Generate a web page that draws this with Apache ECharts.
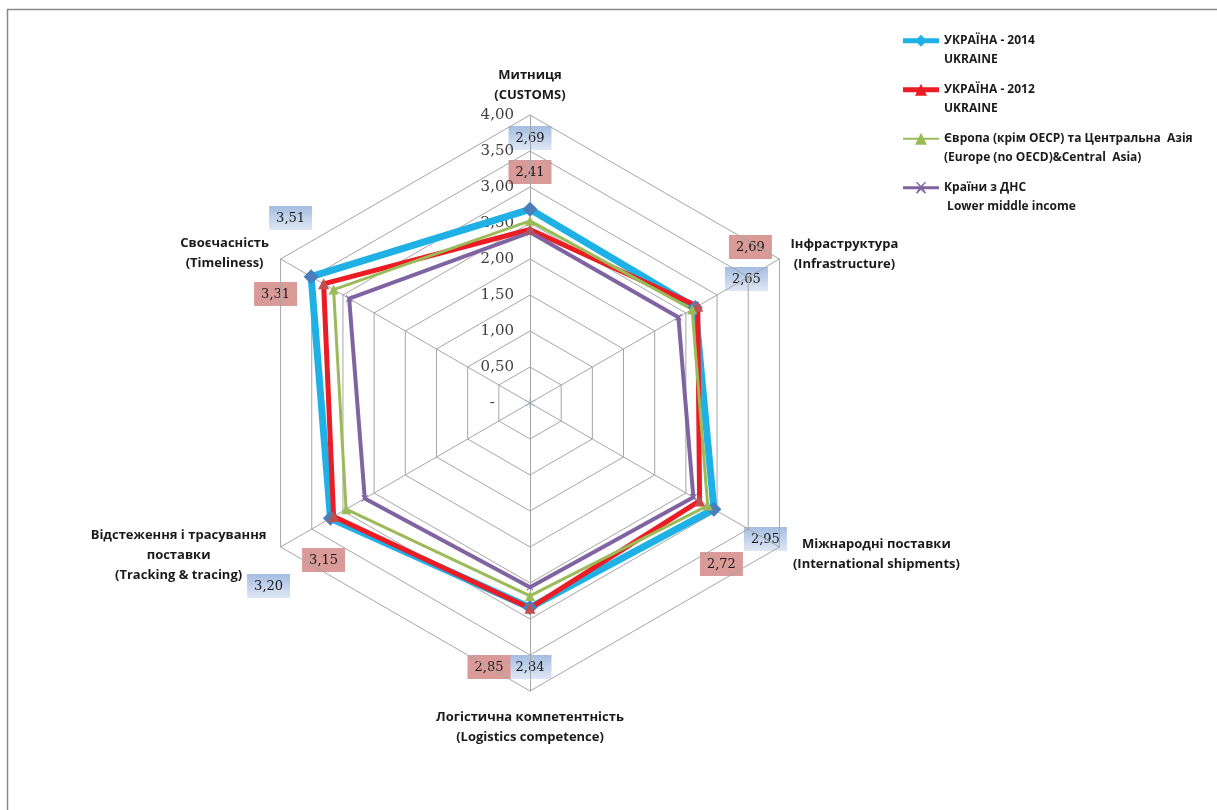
<!DOCTYPE html>
<html>
<head>
<meta charset="utf-8">
<script src="https://cdn.jsdelivr.net/npm/echarts@6/dist/echarts.min.js"></script>
<style>
  html, body { margin: 0; padding: 0; background: #ffffff; }
  #chart { width: 1217px; height: 810px; }
</style>
</head>
<body>
<div id="chart"></div>
<script>
// LPI components, listed clockwise starting from the top axis
const categories = [
  'Митниця\n(CUSTOMS)',
  'Інфраструктура\n(Infrastructure)',
  'Міжнародні поставки\n(International shipments)',
  'Логістична компетентність\n(Logistics competence)',
  'Відстеження і трасування\nпоставки\n(Tracking & tracing)',
  'Своєчасність\n(Timeliness)'
];

const seriesNames = [
  'УКРАЇНА - 2014\nUKRAINE',
  'УКРАЇНА - 2012\nUKRAINE',
  'Європа (крім ОЕСР) та Центральна  Азія\n(Europe (no OECD)&Central  Asia)',
  'Країни з ДНС\n Lower middle income'
];

const ukraine2014 = [2.69, 2.65, 2.95, 2.84, 3.20, 3.51];
const ukraine2012 = [2.41, 2.69, 2.72, 2.85, 3.15, 3.31];
const europeCentralAsia = [2.53, 2.60, 2.85, 2.68, 2.95, 3.15];
const lowerMiddleIncome = [2.37, 2.38, 2.62, 2.56, 2.65, 2.90];

const scaleMin = 0;
const scaleMax = 4;
const scaleStep = 0.5;

// radar geometry (pixels)
const CX = 530, CY = 403, R = 288;

// where the value boxes sit, relative to each axis's outer vertex
const boxOffsets2014 = [[0, 23], [-33, 20], [-14, -8], [0, -24], [-12, 39], [10, -41]];
const boxOffsets2012 = [[0, 57], [-29, -12], [-58, 17], [-41, -24], [43, 13], [-5, 35]];
// centre of each axis title block, relative to the outer vertex
const nameOffsets = [[0, -30], [65, -5], [97, 7], [0, 36], [-102, 8], [-56, -6]];

// ECharts lays indicators out counter-clockwise; map to the clockwise order above
const n = categories.length;
const order = categories.map((_, j) => (n - j) % n);
const reorder = arr => order.map(k => arr[k]);

const fmt = v => v === 0 ? '-    ' : v.toFixed(2).replace('.', ',');

function point(k, v) {
  const a = Math.PI / 2 - k * 2 * Math.PI / n;
  const r = R * (v - scaleMin) / (scaleMax - scaleMin);
  return [CX + r * Math.cos(a), CY - r * Math.sin(a)];
}

const indicators = order.map((k, j) => {
  const ind = { name: categories[k], min: scaleMin, max: scaleMax };
  if (j === 0) {
    ind.axisLabel = {
      show: true,
      fontFamily: 'DejaVu Serif',
      fontSize: 15,
      color: '#404040',
      margin: 16,
      formatter: fmt
    };
  }
  return ind;
});

const graphics = [
  {
    type: 'rect',
    silent: true,
    shape: { x: 7.5, y: 9.5, width: 1300, height: 900 },
    style: { fill: 'none', stroke: '#8a8a8a', lineWidth: 1.5 }
  }
];

// small asterisk at the radar centre
[[-5, -3, 5, 3], [-5, 3, 5, -3], [0, -5, 0, 5]].forEach(([x1, y1, x2, y2]) => {
  graphics.push({
    type: 'line',
    silent: true,
    shape: { x1: CX + x1, y1: CY + y1, x2: CX + x2, y2: CY + y2 },
    style: { stroke: '#8fd3ea', lineWidth: 1.2 }
  });
});

// axis titles
categories.forEach((name, k) => {
  const [x, y] = point(k, scaleMax);
  graphics.push({
    type: 'text',
    silent: true,
    style: {
      text: name,
      x: x + nameOffsets[k][0],
      y: y + nameOffsets[k][1],
      align: 'center',
      verticalAlign: 'middle',
      fontFamily: 'Open Sans',
      fontWeight: 'bold',
      fontSize: 13,
      lineHeight: 20,
      fill: '#1a1a1a'
    }
  });
});

// value boxes for Ukraine 2014 / 2012
function addBox(k, value, offset, fill) {
  const [x, y] = point(k, scaleMax);
  const cx = x + offset[0], cy = y + offset[1];
  const w = 43, h = 24;
  graphics.push({
    type: 'rect',
    silent: true,
    shape: { x: cx - w / 2, y: cy - h / 2, width: w, height: h },
    style: { fill: fill, stroke: 'none' }
  });
  graphics.push({
    type: 'text',
    silent: true,
    style: {
      text: fmt(value),
      x: cx,
      y: cy + 1,
      align: 'center',
      verticalAlign: 'middle',
      fontFamily: 'DejaVu Serif',
      fontSize: 13,
      fill: '#1a1a1a'
    }
  });
}
const blueFill = new echarts.graphic.LinearGradient(0, 0, 0, 1, [
  { offset: 0, color: '#a4bde2' },
  { offset: 1, color: '#dfe7f5' }
]);
const redFill = '#d99a98';
ukraine2014.forEach((v, k) => addBox(k, v, boxOffsets2014[k], blueFill));
ukraine2012.forEach((v, k) => addBox(k, v, boxOffsets2012[k], redFill));

const crossPath = 'path://M0,1 L1,0 L5,4 L9,0 L10,1 L6,5 L10,9 L9,10 L5,6 L1,10 L0,9 L4,5 Z';

const seriesStyles = [
  { line: '#1fb1e6', width: 7, symbol: 'diamond', size: 15, marker: '#4a7ebb',
    icon: 'path://M0,3.5 H36 V8.5 H0 Z M18,0 L24,6 L18,12 L12,6 Z' },
  { line: '#ec1c24', width: 5, symbol: 'triangle', size: 11, marker: '#c0504d',
    icon: 'path://M0,3.5 H36 V8.5 H0 Z M18,0 L24,12 L12,12 Z' },
  { line: '#9bbb59', width: 3, symbol: 'triangle', size: 10, marker: '#9bbb59',
    icon: 'path://M0,5 H36 V7 H0 Z M18,0 L24,12 L12,12 Z' },
  { line: '#8064a2', width: 4, symbol: crossPath, size: 7, marker: '#8064a2',
    icon: 'path://M0,4.5 H36 V7.5 H0 Z M13,1 L14,0 L18,4 L22,0 L23,1 L19,5 L23,11 L22,12 L18,8 L14,12 L13,11 L17,5 Z' }
];
const seriesValues = [ukraine2014, ukraine2012, europeCentralAsia, lowerMiddleIncome];

const option = {
  backgroundColor: '#ffffff',
  animation: false,
  legend: {
    orient: 'vertical',
    left: 903,
    top: 13,
    padding: 0,
    itemWidth: 36,
    itemHeight: 12,
    itemGap: -6.5,
    selectedMode: false,
    // a leading blank line keeps the icon level with the first text line
    formatter: name => ' \n' + name,
    textStyle: {
      fontFamily: 'Open Sans',
      fontWeight: 'bold',
      fontSize: 12,
      color: '#1a1a1a',
      lineHeight: 18.5
    },
    data: seriesNames.map((name, i) => ({
      name: name,
      icon: seriesStyles[i].icon,
      itemStyle: { color: seriesStyles[i].line }
    }))
  },
  radar: {
    center: [CX, CY],
    radius: R,
    startAngle: 90,
    shape: 'polygon',
    splitNumber: (scaleMax - scaleMin) / scaleStep,
    indicator: indicators,
    axisName: { show: false },
    axisLine: { lineStyle: { color: '#a6a6a6', width: 1 } },
    splitLine: { lineStyle: { color: '#a6a6a6', width: 1 } },
    splitArea: { show: false },
    axisTick: { show: false },
    axisLabel: { show: false }
  },
  graphic: graphics,
  series: [{
    type: 'radar',
    data: seriesNames.map((name, i) => ({
      name: name,
      value: reorder(seriesValues[i]),
      symbol: seriesStyles[i].symbol,
      symbolSize: seriesStyles[i].size,
      itemStyle: { color: seriesStyles[i].marker },
      lineStyle: { color: seriesStyles[i].line, width: seriesStyles[i].width },
      areaStyle: null
    }))
  }]
};

const chart = echarts.init(document.getElementById('chart'), null, { renderer: 'canvas' });
chart.setOption(option);
</script>
</body>
</html>
